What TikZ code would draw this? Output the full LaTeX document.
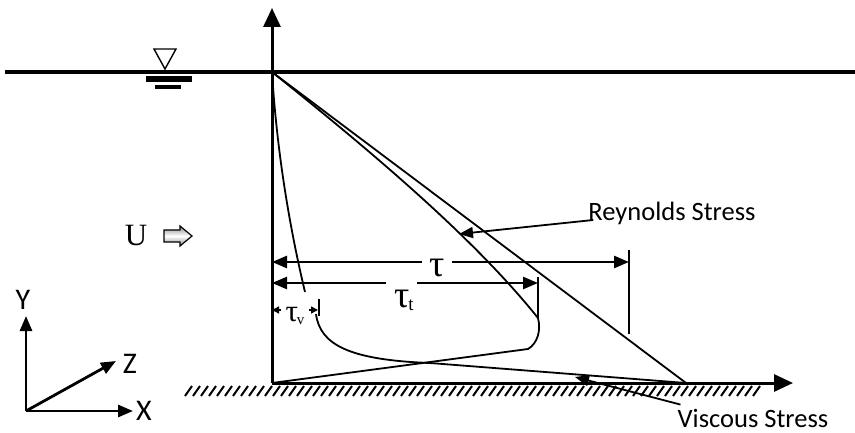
\documentclass[tikz,border=0pt]{standalone}
\usepackage{fontspec}
\setmainfont{Liberation Serif}
\newfontfamily\sansf{Carlito}
\usetikzlibrary{arrows.meta}
\begin{document}
\begin{tikzpicture}[x=1pt,y=-1pt,
  axisline/.style={line width=3pt},
  bigtip/.style={-{Triangle[length=19pt,width=17pt]}},
  dimline/.style={line width=2.5pt},
  dimtip/.style={-{Triangle[length=15pt,width=12pt]}},
  smalltip/.style={-{Triangle[length=7pt,width=7pt]}},
  profile/.style={line width=1.8pt},
  callout/.style={line width=1.8pt,-{Triangle[length=14pt,width=11pt]}},
  sanslabel/.style={font=\sansf\fontsize{26.5}{28}\selectfont, inner sep=0pt},
  axlabel/.style={font=\sansf\fontsize{30}{32}\selectfont, inner sep=0pt},
  taulabel/.style={font=\fontsize{38}{40}\selectfont, inner sep=0pt}
]
\useasboundingbox (0,0) rectangle (855,433);
% coordinates
\coordinate (WL) at (5,72);
\coordinate (WR) at (855,72);
\coordinate (O) at (272,383);
\coordinate (T) at (272,72);
\coordinate (Ytop) at (272,8);
\coordinate (Xend) at (793,383);
\coordinate (B) at (686,383);
\coordinate (Rend) at (538,318);
\coordinate (Rturn) at (528,349);
\coordinate (Vmid) at (305,292);
\coordinate (Vstart) at (316,314);
\coordinate (Vknee) at (430,363);

% hatched bed
\foreach \x in {185,193,...,760}
  \draw[line width=2pt] (\x,396) -- (\x+7,386);

% water surface
\draw[line width=3.5pt] (WL) -- (WR);
% axes
\draw[axisline,bigtip] (O) -- (Ytop);
\draw[axisline,bigtip] (O) -- (Xend);

% water level symbol
\draw[line width=1.4pt,line join=miter] (154,49) -- (176,49) -- (165,69) -- cycle;
\fill (146,76) rectangle (192,82);
\fill (155,85) rectangle (181,89);

% U and block arrow
\node[font=\fontsize{31}{33}\selectfont, inner sep=0pt] (U) at (136,236) {U};
\shade[top color=gray!90, bottom color=gray!90, middle color=white, draw=black, line width=1.2pt]
  (164,230) -- (180,230) -- (180,226) -- (192,236) -- (180,246) -- (180,242) -- (164,242) -- cycle;

% total stress line
\draw[profile] (T) -- (B);
% Reynolds stress profile
\draw[profile] (T) .. controls (372,152) and (474,238) .. (Rend)
  .. controls (541,330) and (538,343) .. (Rturn) -- (O);
% viscous stress profile
\draw[profile] (T) .. controls (278,170) and (295,250) .. (Vmid);
\draw[profile] (Vstart) .. controls (320,345) and (350,360) .. (Vknee) -- (B);

% tau dimension
\coordinate (t1) at (272,262);
\coordinate (t2) at (422,262);
\coordinate (t3) at (452,262);
\coordinate (t4) at (629,262);
\coordinate (t4a) at (629,250);
\coordinate (t4b) at (629,334);
\draw[dimline,dimtip] (t2) -- (t1);
\draw[dimline,dimtip] (t3) -- (t4);
\draw[line width=1.8pt] (t4a) -- (t4b);
\node[taulabel] (tau) at (437,268) {τ};

% tau_t dimension
\coordinate (r1) at (272,283);
\coordinate (r2) at (386,283);
\coordinate (r3) at (417,283);
\coordinate (r4) at (538,283);
\coordinate (r4a) at (538,277);
\draw[dimline,dimtip] (r2) -- (r1);
\draw[dimline,dimtip] (r3) -- (r4);
\draw[line width=1.8pt] (r4a) -- (Rend);
\node[taulabel] (taut) at (404,300) {τ\kern-1pt\raisebox{-3pt}{\fontsize{19}{19}\selectfont t}};

% tau_v dimension
\coordinate (v1) at (272,310);
\coordinate (v2) at (281,310);
\coordinate (v3) at (309,310);
\coordinate (v4) at (318,310);
\coordinate (v4a) at (319,299);
\coordinate (v4b) at (319,316);
\draw[line width=1.4pt,smalltip] (v2) -- (v1);
\draw[line width=1.4pt,smalltip] (v3) -- (v4);
\draw[line width=1.5pt] (v4a) -- (v4b);
\node[font=\fontsize{31}{33}\selectfont, inner sep=0pt] (tauv) at (295,316) {τ\kern-1pt\raisebox{-3pt}{\fontsize{15}{15}\selectfont v}};

% callouts
\node[sanslabel] (rey) at (672,213) {Reynolds Stress};
\node[sanslabel] (visc) at (753,418) {Viscous Stress};
\coordinate (reytip) at (459,234);
\coordinate (vistip) at (575,377);
\draw[callout] (rey.west) ++(5,7) -- (reytip);
\draw[callout] (visc.north west) ++(3,-4) -- (vistip);

% coordinate system
\coordinate (C0) at (26,411);
\coordinate (Cy) at (26,316);
\coordinate (Cx) at (133,411);
\coordinate (Cz) at (116,361);
\draw[line width=2.8pt,-{Triangle[length=15pt,width=12pt]}] (C0) -- (Cy);
\draw[line width=2.8pt,-{Triangle[length=15pt,width=12pt]}] (C0) -- (Cx);
\draw[line width=2.8pt,-{Triangle[length=15pt,width=12pt]}] (C0) -- (Cz);
\node[axlabel] (ly) at (23,300) {Y};
\node[axlabel] (lz) at (130,364) {Z};
\node[axlabel] (lx) at (144,411) {X};
\end{tikzpicture}
\end{document}
